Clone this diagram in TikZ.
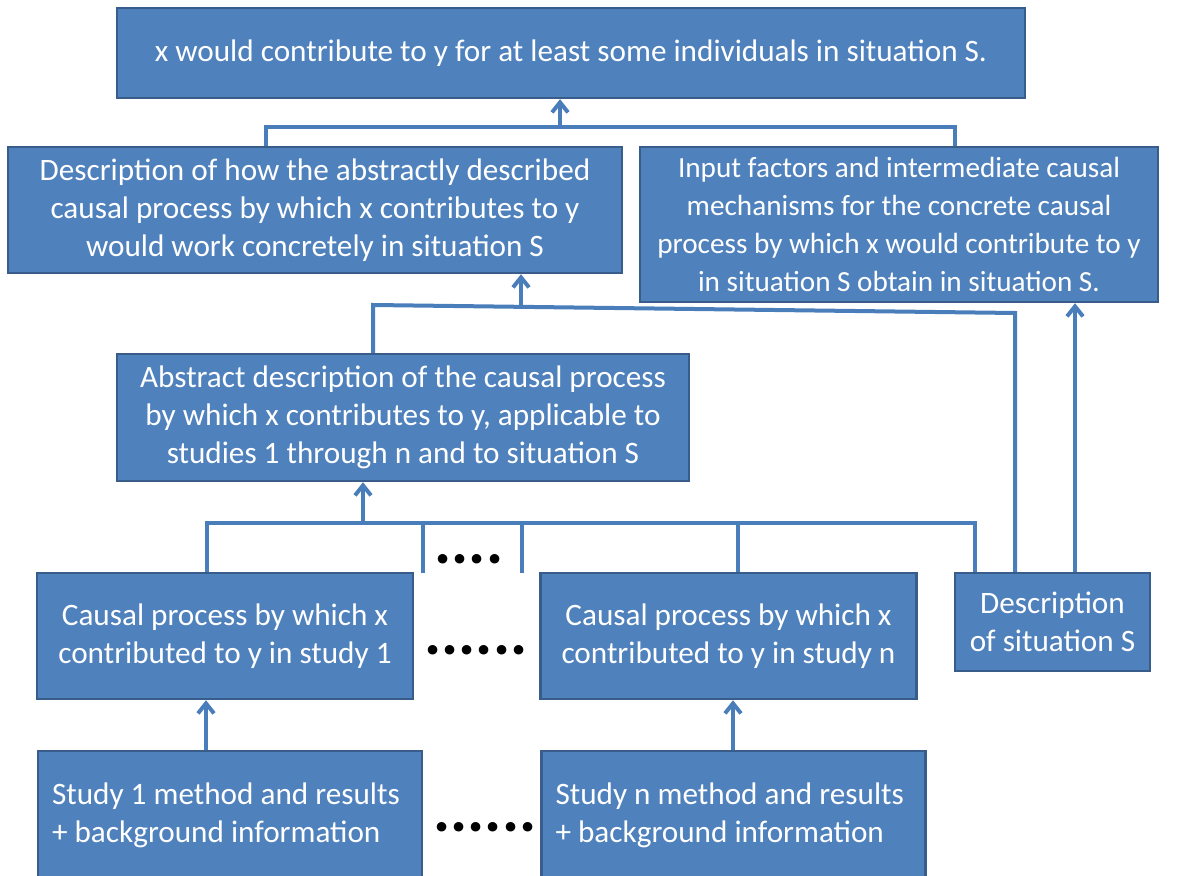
\documentclass[tikz,border=0pt]{standalone}
\usepackage{fontspec}
\setmainfont{Carlito}
\usepackage{xcolor}
\usepackage{tikz}
\usetikzlibrary{arrows.meta, calc}

\definecolor{boxblue}{HTML}{4F81BD}
\definecolor{boxedge}{HTML}{385D8A}
\definecolor{linkblue}{HTML}{4A7EBB}

\tikzset{
    box/.style={draw=boxedge, fill=boxblue, line width=1.2pt, text=white,
        align=center, inner sep=0pt,
        font=\fontsize{15.6}{19}\selectfont},
    link/.style={draw=linkblue, line width=2pt},
    dots/.style={anchor=base, inner sep=0pt, font=\fontsize{32}{32}\selectfont\bfseries}
}

\begin{document}
\begin{tikzpicture}[x=0.5pt, y=-0.5pt, >={Straight Barb[length=5pt,width=8pt]}]
    \useasboundingbox (0,0) rectangle (1188,876);

    % 1. Các hộp
    \node[box, minimum width=454pt, minimum height=45pt] (claim) at (571,53)
        {x would contribute to y for at least some individuals in situation S.};
    \node[box, minimum width=307pt, minimum height=63pt] (concrete) at (315,210)
        {Description of how the abstractly described\\causal process by which x contributes to y\\would work concretely in situation S};
    \node[box, minimum width=259pt, minimum height=77.5pt,
        font=\fontsize{14.6}{19}\selectfont] (inputs) at (899,224.5)
        {Input factors and intermediate causal\\mechanisms for the concrete causal\\process by which x would contribute to y\\in situation S obtain in situation S.};
    \node[box, minimum width=286pt, minimum height=63.5pt] (abstract) at (403,417.5)
        {Abstract description of the causal process\\by which x contributes to y, applicable to\\studies 1 through n and to situation S};
    \node[box, minimum width=188pt, minimum height=63pt] (cause1) at (225,636)
        {Causal process by which x\\contributed to y in study 1};
    \node[box, minimum width=188pt, minimum height=63pt] (causen) at (728.5,636)
        {Causal process by which x\\contributed to y in study n};
    \node[box, minimum width=97.5pt, minimum height=49pt] (sitS) at (1052.5,622)
        {Description\\of situation S};
    \node[box, align=flush left, text width=178pt, inner xsep=7pt,
        minimum width=192pt, minimum height=64.5pt] (study1) at (230,815.5)
        {Study 1 method and results\\+ background information};
    \node[box, align=flush left, text width=178pt, inner xsep=7pt,
        minimum width=192pt, minimum height=64.5pt] (studyn) at (733.5,815.5)
        {Study n method and results\\+ background information};

    % 2. Các dấu chấm
    \node[dots] (gapA) at (469,564) {....};
    \node[dots] (gapB) at (476,654) {......};
    \node[dots] (gapC) at (485,831) {......};

    % 3. Nhánh trên cùng
    \coordinate (jL) at (266,127);
    \coordinate (jR) at (955,127);
    \coordinate (jA) at (560,127);
    \draw[link] (jL |- concrete.north) -- (jL) -- (jR) -- (jR |- inputs.north);
    \draw[link, ->] (jA) -- (jA |- claim.south);

    % 4. Nhánh giữa (hơi nghiêng)
    \coordinate (kL) at (373,305);
    \coordinate (kR) at (1015,313);
    \coordinate (kA) at (521,307);
    \draw[link] (kL |- abstract.north) -- (kL) -- (kR) -- (kR |- sitS.north);
    \draw[link, ->] (kA) -- (kA |- concrete.south);
    \coordinate (sA) at (1075,0);
    \draw[link, ->] (sA |- sitS.north) -- (sA |- inputs.south);

    % 5. Nhánh dưới
    \coordinate (mL) at (207,523);
    \coordinate (mR) at (975,523);
    \coordinate (mA) at (363,523);
    \draw[link] (mL |- cause1.north) -- (mL) -- (mR) -- (mR |- sitS.north);
    \foreach \xx in {423,522} {
        \draw[link] (\xx,523) -- (\xx,573);
    }
    \coordinate (mN) at (738,523);
    \draw[link] (mN) -- (mN |- causen.north);
    \draw[link, ->] (mA) -- (mA |- abstract.south);

    % 6. Mũi tên từ các nghiên cứu
    \coordinate (p1) at (206,0);
    \coordinate (pn) at (733,0);
    \draw[link, ->] (p1 |- study1.north) -- (p1 |- cause1.south);
    \draw[link, ->] (pn |- studyn.north) -- (pn |- causen.south);
\end{tikzpicture}
\end{document}
